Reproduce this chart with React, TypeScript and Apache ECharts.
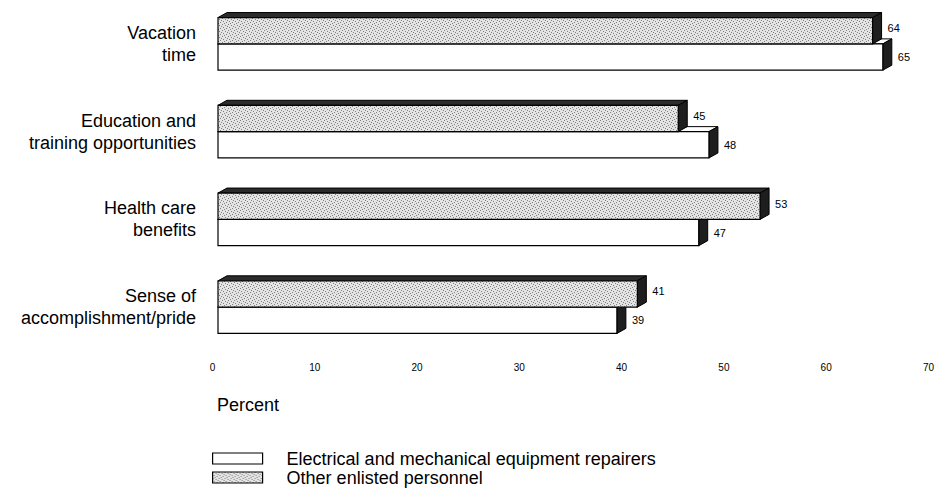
import React, { useEffect, useRef } from "react";
import * as echarts from "echarts";

const categories = [
  "Vacation\ntime",
  "Education and\ntraining opportunities",
  "Health care\nbenefits",
  "Sense of\naccomplishment/pride",
];
const repairersValues = [65, 48, 47, 39];
const otherValues = [64, 45, 53, 41];
const seriesNames = ["Electrical and mechanical equipment repairers", "Other enlisted personnel"];
const xTicks = [0, 10, 20, 30, 40, 50, 60, 70];

const FONT = "'Liberation Sans', Arial, Helvetica, sans-serif";
const DX = 9;
const DY = -5;

function makeStipple(): any {
  const c = document.createElement("canvas");
  c.width = 6;
  c.height = 6;
  const ctx = c.getContext("2d")!;
  ctx.fillStyle = "#e4e4e4";
  ctx.fillRect(0, 0, 6, 6);
  ctx.fillStyle = "#808080";
  const dots = [[0, 0], [3, 1], [1, 3], [4, 4], [5, 2], [2, 5]];
  dots.forEach(([x, y]) => ctx.fillRect(x, y, 1, 1));
  return { image: c, repeat: "repeat" };
}

export default function App() {
  const ref = useRef<HTMLDivElement>(null);
  useEffect(() => {
    const chart = echarts.init(ref.current!, null, { renderer: "svg" });
    let stipple: any = "#d2d2d2";
    try {
      stipple = makeStipple();
    } catch (e) {
      stipple = "#d2d2d2";
    }

    const makeRender = (upper: boolean) => (params: any, api: any) => {
      const v = api.value(0);
      const c = api.value(1);
      const p0 = api.coord([0, c]);
      const p1 = api.coord([v, c]);
      const band = api.size([0, 1])[1];
      const h = band * 0.3;
      const x0 = p0[0];
      const x1 = p1[0];
      const y0 = upper ? p0[1] - h : p0[1];
      const y1 = upper ? p0[1] : p0[1] + h;
      const frontFill = upper ? stipple : "#ffffff";
      const topFill = upper ? "#2b2b2b" : "#ffffff";
      return {
        type: "group",
        children: [
          {
            type: "polygon",
            shape: { points: [[x0, y0], [x0 + DX, y0 + DY], [x1 + DX, y0 + DY], [x1, y0]] },
            style: { fill: topFill, stroke: "#000", lineWidth: 1 },
          },
          {
            type: "polygon",
            shape: { points: [[x1, y0], [x1 + DX, y0 + DY], [x1 + DX, y1 + DY], [x1, y1]] },
            style: { fill: "#1e1e1e", stroke: "#000", lineWidth: 1 },
          },
          {
            type: "rect",
            shape: { x: x0, y: y0, width: x1 - x0, height: y1 - y0 },
            style: { fill: frontFill, stroke: "#000", lineWidth: 1.2 },
          },
          {
            type: "text",
            x: x1 + DX + 6,
            y: (y0 + y1) / 2 + (upper ? DY / 2 : 0),
            style: {
              text: String(v),
              fill: "#000",
              font: `11px ${FONT}`,
              verticalAlign: "middle",
              align: "left",
            },
          },
        ],
      };
    };

    chart.setOption({
      animation: false,
      textStyle: { fontFamily: FONT },
      grid: { left: 218, right: 3, top: -1, bottom: 140, containLabel: false },
      xAxis: {
        type: "value",
        min: 0,
        max: 70,
        interval: 10,
        axisLine: { show: false },
        axisTick: { show: false },
        splitLine: { show: false },
        axisLabel: {
          color: "#000",
          fontSize: 10,
          fontFamily: FONT,
          margin: 11,
          padding: [0, 11, 0, 0],
          formatter: (val: number) => (xTicks.includes(val) ? String(val) : ""),
        },
      },
      yAxis: {
        type: "category",
        inverse: true,
        data: categories,
        axisLine: { show: false },
        axisTick: { show: false },
        splitLine: { show: false },
        axisLabel: {
          color: "#000",
          fontSize: 18,
          lineHeight: 22,
          fontFamily: FONT,
          margin: 22,
          align: "right",
        },
      },
      legend: {
        orient: "vertical",
        left: 212,
        top: 449,
        itemWidth: 50,
        itemHeight: 11,
        itemGap: 0,
        padding: 0,
        selectedMode: false,
        textStyle: { fontSize: 18, color: "#000", fontFamily: FONT, padding: [0, 0, 0, 19], lineHeight: 19 },
        data: [
          { name: seriesNames[0], icon: "rect", itemStyle: { color: "#ffffff", borderColor: "#000", borderWidth: 1.2 } },
          { name: seriesNames[1], icon: "rect", itemStyle: { color: stipple, borderColor: "#000", borderWidth: 1.2 } },
        ],
      },
      graphic: [
        {
          type: "text",
          left: 217,
          top: 396,
          style: { text: "Percent", fill: "#000", font: `18px ${FONT}` },
        },
      ],
      series: [
        {
          name: seriesNames[0],
          type: "custom",
          renderItem: makeRender(false),
          itemStyle: { color: "#ffffff", borderColor: "#000" },
          encode: { x: 0, y: 1 },
          data: repairersValues.map((v, i) => [v, i]),
        },
        {
          name: seriesNames[1],
          type: "custom",
          renderItem: makeRender(true),
          itemStyle: { color: "#d2d2d2", borderColor: "#000" },
          encode: { x: 0, y: 1 },
          data: otherValues.map((v, i) => [v, i]),
        },
      ],
    });
    return () => chart.dispose();
  }, []);
  return (
    <div
      ref={ref}
      style={{ position: "fixed", left: 0, top: 0, width: 937, height: 491, background: "#fff" }}
    />
  );
}
